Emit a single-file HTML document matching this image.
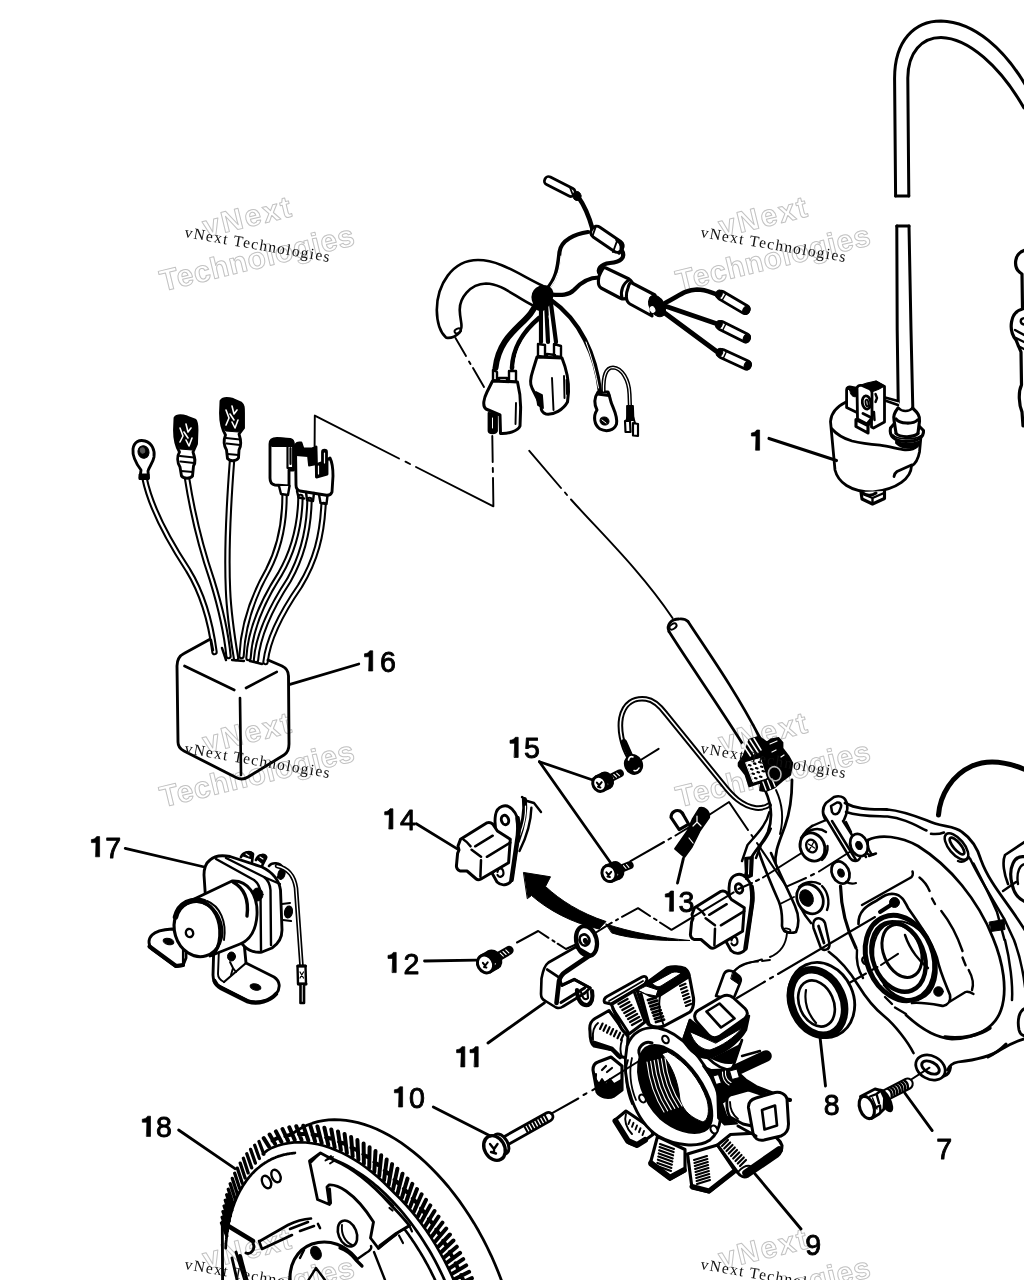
<!DOCTYPE html>
<html><head><meta charset="utf-8"><title>diagram</title>
<style>
html,body{margin:0;padding:0;background:#fff;}
body{width:1024px;height:1280px;overflow:hidden;font-family:"Liberation Sans",sans-serif;}
svg{display:block;filter:grayscale(100%)}
.lbl{font-family:"Liberation Sans",sans-serif;fill:#000;stroke:#000;stroke-width:0.9px;letter-spacing:0px}
.wmb{font-family:"Liberation Serif",serif;fill:#111;font-size:15.5px;letter-spacing:1.35px}
.wmo{font-family:"Liberation Sans",sans-serif;font-weight:bold;fill:#fff;stroke:#c2c2c2;stroke-width:1px;font-size:30px;letter-spacing:0.7px;text-anchor:middle}
</style></head><body>
<svg width="1024" height="1280" viewBox="0 0 1024 1280" stroke-linecap="round" stroke-linejoin="round">
<rect width="1024" height="1280" fill="#fff"/>
<g transform="translate(0,0)"><g transform="rotate(-13.6 256 255)"><text class="wmo" x="257" y="226" style="letter-spacing:2.0px">vNext</text><text class="wmo" x="256.5" y="268.5">Technologies</text></g></g>
<g transform="translate(516,0)"><g transform="rotate(-13.6 256 255)"><text class="wmo" x="257" y="226" style="letter-spacing:2.0px">vNext</text><text class="wmo" x="256.5" y="268.5">Technologies</text></g></g>
<g transform="translate(0,516)"><g transform="rotate(-13.6 256 255)"><text class="wmo" x="257" y="226" style="letter-spacing:2.0px">vNext</text><text class="wmo" x="256.5" y="268.5">Technologies</text></g></g>
<g transform="translate(516,516)"><g transform="rotate(-13.6 256 255)"><text class="wmo" x="257" y="226" style="letter-spacing:2.0px">vNext</text><text class="wmo" x="256.5" y="268.5">Technologies</text></g></g>
<g transform="translate(0,1032)"><g transform="rotate(-13.6 256 255)"><text class="wmo" x="257" y="226" style="letter-spacing:2.0px">vNext</text><text class="wmo" x="256.5" y="268.5">Technologies</text></g></g>
<g transform="translate(516,1032)"><g transform="rotate(-13.6 256 255)"><text class="wmo" x="257" y="226" style="letter-spacing:2.0px">vNext</text><text class="wmo" x="256.5" y="268.5">Technologies</text></g></g>
<path d="M895.6 196 L894.6 80 C894 40 915 21 941 21 C975 22 1005 50 1026 86" fill="none" stroke="#000" stroke-width="3.0" />
<path d="M908.8 196 L907.8 78 C908 52 922 37.5 941 37.5 C968 38 1000 66 1024 108" fill="none" stroke="#000" stroke-width="3.0" />
<path d="M895.6 196 L908.8 196" fill="none" stroke="#000" stroke-width="3" />
<path d="M896.8 226 L897.2 330 L898.3 408" fill="none" stroke="#000" stroke-width="3.0" />
<path d="M909 226 L911 330 L912.8 408" fill="none" stroke="#000" stroke-width="3.0" />
<path d="M896.8 226 L909 226" fill="none" stroke="#000" stroke-width="3" />
<path d="M830.5 421.5 C831 413 838 406 846 402 L885 397.5 L898 401.5 L920 430 L920.8 436 L919.5 452 C918 460 915 464 911.5 466 C911 478 898 489 873 492 C850 492 838 482 835 470 Z" fill="#fff" stroke="#fff" stroke-width="0.1" />
<path d="M846 402 C838 406 831 413 830.5 421.5 L835 470 C838 482 850 492 873 492 C898 489 911 478 911.5 466 C915 464 918 460 919.5 452 L920.8 438" fill="none" stroke="#000" stroke-width="2.8" />
<path d="M885 397.5 L898 401 M885 400.5 L898 405" fill="none" stroke="#000" stroke-width="2.64" />
<path d="M831.5 428.5 C838 436 845 439 852 441 C862 443.5 872 444.5 880 445.2 C890 446.5 898 449 905 449.8 C911 450 915 448.5 917.5 446" fill="none" stroke="#000" stroke-width="2.8" />
<path d="M894 476.5 C894.5 473.5 895.5 472.5 897 471.5 L911.5 465" fill="none" stroke="#000" stroke-width="2.8" />
<path d="M861 492 L862 499 L872.5 504 L884.5 498.5 L884.5 491" fill="#fff" stroke="#000" stroke-width="3.12" />
<path d="M863 494 L872.5 498 L872.5 504 M872.5 498 L884 493" fill="none" stroke="#000" stroke-width="2.4" />
<path d="M862 492.5 C866 496 872 496 876 493" fill="none" stroke="#000" stroke-width="3" />
<path d="M846.6 390 C846.6 387.5 848.5 386.5 851 387 L856 388 C857.5 388.5 858 390 858 392 L858 413 L846.6 407.5 Z" fill="#fff" stroke="#000" stroke-width="2.8" />
<path d="M847 388 L857.5 389 L857.5 396 C854 398 850.5 396 850 391 Z" fill="#000" stroke="#000" stroke-width="1" />
<path d="M871.5 385.5 L876 382 L884.5 386.5 L884.5 422 L873.5 428 L871.5 427 Z" fill="#fff" stroke="#000" stroke-width="2.8" />
<path d="M859.5 385.5 L867 383 L876 381 L884.5 386 L878 389.5 L871.5 392 Z" fill="#000" stroke="#000" stroke-width="1.2" />
<path d="M857 387.5 C858 385.5 860 385 862 385.5 L870 389 C871.5 390 872 391.5 872 393 L872 418 L867 424 L857.5 419 Z" fill="#fff" stroke="#000" stroke-width="2.8" />
<ellipse cx="866.5" cy="402.5" rx="4.2" ry="6.6" transform="rotate(-8 866.5 402.5)" fill="none" stroke="#000" stroke-width="2.8"/>
<ellipse cx="867" cy="403" rx="1.4" ry="3.4" transform="rotate(-8 867 403)" fill="none" stroke="#000" stroke-width="1.92"/>
<path d="M856 419.5 L868 425.5 L868 433 L856 426.5 Z" fill="#fff" stroke="#000" stroke-width="3.12" />
<path d="M863 413.5 L871 417.5 M868 425.5 L872 419" fill="none" stroke="#000" stroke-width="2.88" />
<path d="M875.5 394 L877 398 L875.5 402 M874 412 L874.5 420" fill="none" stroke="#000" stroke-width="2.4" />
<path d="M898 408 C894 413 893 416 894 420 L896 433 L890.5 428 C889 436 894 441 906 441.5 C918 441.5 924 437 923.5 430.5 L919.5 426.5 L919.5 421 C920 416 918 413 912.5 408 Z" fill="#fff" stroke="#fff" stroke-width="0.1" />
<path d="M898 408 C894 413 893 416 894 420 L896 433 M912.5 408 C918 413 920 416 919.5 421 L918 433" fill="none" stroke="#000" stroke-width="3.12" />
<path d="M898.5 408 C902 412 909 412 912.5 408" fill="none" stroke="#000" stroke-width="2.64" />
<path d="M896 419 C900 424 913 424.5 917.5 420" fill="none" stroke="#000" stroke-width="3.12" />
<path d="M894 424 L890.5 428 C889 436 894 441 906 441.5 C918 441.5 924 437 923.5 430.5 L919.5 426.5" fill="none" stroke="#000" stroke-width="3.12" />
<path d="M896 433.5 C900 437.5 913 438 918 433.5" fill="none" stroke="#000" stroke-width="3.12" />
<path d="M893 435 C897 439.5 914 440.5 920.5 436" fill="none" stroke="#000" stroke-width="1.8" />
<path d="M896 443 C902 449 914 449.5 919.5 444 L919 441.5 C912 444.5 902 444.5 896 441 Z" fill="#000" stroke="#000" stroke-width="1.8" />
<path d="M1026 250 C1014 252 1012 268 1022 274 L1022.5 309 C1010 312 1008 330 1016 340 L1021 352 L1021.5 385 C1018 392 1019 405 1022 412 L1023 426" fill="none" stroke="#000" stroke-width="3.2" />
<path d="M1015 330 L1026 336 M1016 338 L1026 343 M1018 346 L1026 350" fill="none" stroke="#000" stroke-width="2.4" />
<path d="M1026 318 C1019 318 1019 324 1026 325" fill="none" stroke="#000" stroke-width="2.4" />
<path d="M542.5 285.7 C520 275 500 260 478 260 C452 260 437 285 436.8 310 C437 324 441 333 446 337.5 C450 339 458 336 460.5 331" fill="none" stroke="#000" stroke-width="2.64" />
<path d="M534 306 C515 297 502 283.5 486 283.5 C470 284 459 298 459.8 311 C460 320 463 326 460.8 329.5" fill="none" stroke="#000" stroke-width="2.64" />
<ellipse cx="457.8" cy="330.8" rx="3.4" ry="2.2" transform="rotate(-25 457.8 330.8)" fill="none" stroke="#000" stroke-width="1.92"/>
<path d="M546 290 C556 280 558 268 559.5 252 C561 240 575 234 588 232" fill="none" stroke="#000" stroke-width="4.2" />
<path d="M550 288 C558 278 560 268 561 256" fill="none" stroke="#fff" stroke-width="1.2" />
<path d="M578 196.5 C584 205 589 216 592.5 229" fill="none" stroke="#000" stroke-width="4.6" />
<path d="M621 249 C627 258 620 262 610 263 C600 264 597 270 600 274" fill="none" stroke="#000" stroke-width="4.2" />
<path d="M549 294.5 C560 295 568 296 574 290 C582 281 590 277.5 599 277.5" fill="none" stroke="#000" stroke-width="4.2" />
<rect x="0" y="-4.25" width="33.1" height="8.5" rx="3.9" fill="#fff" stroke="#000" stroke-width="2.8" transform="translate(545,179) rotate(27.0)"/>
<path d="M570 187.5 L573 195.5" fill="none" stroke="#000" stroke-width="1.8" />
<ellipse cx="577" cy="196" rx="4" ry="4.5" transform="rotate(0 577 196)" fill="#000" stroke="#000" stroke-width="1"/>
<rect x="0" y="-6.0" width="36.3" height="12" rx="5.5" fill="#fff" stroke="#000" stroke-width="3" transform="translate(592,229) rotate(34.3)"/>
<path d="M596 226 L592.5 236 M617 241 L613 252" fill="none" stroke="#000" stroke-width="1.92" />
<path d="M617 240 C622 243 623 250 619 253" fill="none" stroke="#000" stroke-width="3.5" />
<path d="M606 268 L629 279 C634 282 634 288 631 293 C628 299 624 300 620 298 L601 288 C597 285 598 277 601 272 C603 268 604 267 606 268 Z" fill="#fff" stroke="#000" stroke-width="3.12" />
<path d="M629 280 C623 283 620 292 622 298" fill="none" stroke="#000" stroke-width="3" />
<path d="M632 283 L655 295 C652 300 650 310 652 316 L630 304 C625 301 626 293 628 288 C629 284 630 282 632 283 Z" fill="#fff" stroke="#000" stroke-width="3.12" />
<ellipse cx="657" cy="306" rx="7.5" ry="11.5" transform="rotate(-28 657 306)" fill="#000" stroke="#000" stroke-width="1"/>
<ellipse cx="652.5" cy="309.5" rx="2.2" ry="3" transform="rotate(-28 652.5 309.5)" fill="#fff" stroke="#fff" stroke-width="1"/>
<path d="M649 296 C647 300 647 306 648 310" fill="none" stroke="#fff" stroke-width="1.2" />
<path d="M665 303 C678 297 684 290 697 289.5 C705 289.5 710 292 716 294" fill="none" stroke="#000" stroke-width="4.6" />
<path d="M665 306 L716 323.5" fill="none" stroke="#000" stroke-width="5" />
<path d="M662 311 L716 351" fill="none" stroke="#000" stroke-width="4.8" />
<rect x="0" y="-4.25" width="35.4" height="8.5" rx="3.9" fill="#fff" stroke="#000" stroke-width="2.8" transform="translate(718,293.5) rotate(30.5)"/>
<ellipse cx="746.3469813432632" cy="310.22936603864713" rx="3.4" ry="4.6" transform="rotate(30.54757174890702 746.3469813432632 310.22936603864713)" fill="#000" stroke="#000" stroke-width="1"/>
<ellipse cx="718.8612074626947" cy="294.00825358454114" rx="3.2" ry="4.2" transform="rotate(30.54757174890702 718.8612074626947 294.00825358454114)" fill="#000" stroke="#000" stroke-width="1"/>
<path d="M725.8 294.0 L722.2 300.1" fill="none" stroke="#000" stroke-width="1.4" />
<rect x="0" y="-4.25" width="34.7" height="8.5" rx="3.9" fill="#fff" stroke="#000" stroke-width="2.8" transform="translate(718,324) rotate(26.6)"/>
<ellipse cx="746.7639320225002" cy="338.3819660112501" rx="3.4" ry="4.6" transform="rotate(26.56505117707799 746.7639320225002 338.3819660112501)" fill="#000" stroke="#000" stroke-width="1"/>
<ellipse cx="718.8944271909999" cy="324.44721359549993" rx="3.2" ry="4.2" transform="rotate(26.56505117707799 718.8944271909999 324.44721359549993)" fill="#000" stroke="#000" stroke-width="1"/>
<path d="M725.8 324.0 L722.7 330.3" fill="none" stroke="#000" stroke-width="1.4" />
<rect x="0" y="-4.25" width="34.7" height="8.5" rx="3.9" fill="#fff" stroke="#000" stroke-width="2.8" transform="translate(718.5,352) rotate(24.7)"/>
<ellipse cx="747.7290476596316" cy="365.45464098617964" rx="3.4" ry="4.6" transform="rotate(24.717440911083393 747.7290476596316 365.45464098617964)" fill="#000" stroke="#000" stroke-width="1"/>
<ellipse cx="719.4083809361473" cy="352.41814360552814" rx="3.2" ry="4.2" transform="rotate(24.717440911083393 719.4083809361473 352.41814360552814)" fill="#000" stroke="#000" stroke-width="1"/>
<path d="M726.3 351.7 L723.4 358.1" fill="none" stroke="#000" stroke-width="1.4" />
<path d="M538 300 C530 325 500 330 495.5 368" fill="none" stroke="#000" stroke-width="6" />
<path d="M539 318 C525 330 513 345 512 368" fill="none" stroke="#000" stroke-width="4.6" />
<path d="M536 326 C524 337 516 350 515 366" fill="none" stroke="#fff" stroke-width="1.1" />
<path d="M541 300 L541 342 M546 302 L548 342 M551 304 L556 342" fill="none" stroke="#000" stroke-width="4.2" />
<path d="M543.5 312 L544 340 M549 316 L552 340" fill="none" stroke="#fff" stroke-width="1" />
<path d="M551 300 C580 320 596 355 600 392" fill="none" stroke="#000" stroke-width="4.4" />
<path d="M586 342 C592 358 596 374 598.5 388" fill="none" stroke="#fff" stroke-width="1" />
<path d="M533 300 C531 290 540 284 548 287 C554 290 553 298 549 303 C546 310 540 312 536 308 Z" fill="#000" stroke="#000" stroke-width="2.4" />
<path d="M493 370 L493 380 L497 381 L497 372 Z M509 371 L509 381 L516 382 L516 371 Z M499 378 L507 378 L507 384 L499 384 Z" fill="#fff" stroke="#000" stroke-width="2.4" />
<path d="M492.5 381 L517.5 382 C520 392 521 402 520.5 412 L520 426 C518 431 508 434 500.5 433.5 L500 415 L486 409 C482 406 484 398 487 392 Z" fill="#fff" stroke="#000" stroke-width="3" />
<path d="M516 403 L515.5 424" fill="none" stroke="#000" stroke-width="1.92" />
<path d="M488.5 413 L488.5 431 C489 434 496 434 497 431 L497 414 Z" fill="#000" stroke="#000" stroke-width="1.8" />
<path d="M492.5 418 L492.5 428" fill="none" stroke="#fff" stroke-width="1" />
<path d="M538 344 L538 356 L545 357 L545 345 Z M554 344 L554 356 L561 357 L561 346 Z M547 354 L547 362 L555 363 L555 355 Z" fill="#fff" stroke="#000" stroke-width="2.4" />
<path d="M537 357 L562 358 C566 368 569 380 568.5 392 L567.5 402 C563 410 554 415 546 414 C542 413 541 410 541 406 L532 388 C529 383 531 376 533 370 Z" fill="#fff" stroke="#000" stroke-width="3" />
<path d="M552 378 L553.5 410 M564 376 L564.5 398 M566.5 380 L567 394" fill="none" stroke="#000" stroke-width="1.92" />
<path d="M536 392 L542 395 L543 408 L538 405 Z" fill="#000" stroke="#000" stroke-width="1.8" />
<path d="M598 392 C594 398 594 404 597 410 C593 416 594 425 600 429 C606 432 614 431 616.5 424 C618 416 613 408 611 402 C610 398 609 394 608 392 Z" fill="#fff" stroke="#000" stroke-width="3" />
<path d="M597.5 394 L609 395.5" fill="none" stroke="#000" stroke-width="3.12" />
<ellipse cx="604.5" cy="421" rx="4.6" ry="4" transform="rotate(20 604.5 421)" fill="#000" stroke="#000" stroke-width="1"/>
<path d="M602 420 L606 423" fill="none" stroke="#fff" stroke-width="1" />
<path d="M603.5 391 C603 376 606 367.5 613 367.5 C622 368 629 380 629.5 394 L630 408" fill="none" stroke="#000" stroke-width="4.2"/>
<path d="M603.5 391 C603 376 606 367.5 613 367.5 C622 368 629 380 629.5 394 L630 408" fill="none" stroke="#fff" stroke-width="1.2"/>
<path d="M627 406 L633 406 L633.5 420 L627 420 Z" fill="#000" stroke="#000" stroke-width="1.8" />
<path d="M625 421 L630 421 L630.5 432 L625.5 432 Z M633 423 L638 424 L638 436 L633 435.5 Z" fill="#fff" stroke="#000" stroke-width="2.16" />
<path d="M629 413 L626 421 M632 413 L635 423" fill="none" stroke="#000" stroke-width="1.92" />
<path d="M455.5 338 L466 356 M469 361.5 L470.5 364 M473 368 L484 387" fill="none" stroke="#000" stroke-width="1.92" />
<path d="M492.3 436 L492.7 462 M492.8 468 L492.9 472 M493 478 L493.4 506.3 L416 467 M410 464 L405.5 461.7 M399 458.5 L314.8 415.6 L314.6 446" fill="none" stroke="#000" stroke-width="1.92" />
<path d="M529.3 450.8 L561 488 M565 492.5 L567 495 M571 499.5 C600 532 640 570 672.5 618" fill="none" stroke="#000" stroke-width="1.92" />
<path d="M144.5 478 C150 505 165 535 188 570 C204 596 211 625 214.5 652" fill="none" stroke="#000" stroke-width="6.4"/>
<path d="M144.5 478 C150 505 165 535 188 570 C204 596 211 625 214.5 652" fill="none" stroke="#fff" stroke-width="2.3"/>
<path d="M187 478 C192 510 200 545 212 580 C220 606 226 630 228.5 656" fill="none" stroke="#000" stroke-width="6.4"/>
<path d="M187 478 C192 510 200 545 212 580 C220 606 226 630 228.5 656" fill="none" stroke="#fff" stroke-width="2.3"/>
<path d="M232 461 C229 500 226 545 228 590 C229 615 233 640 236 658" fill="none" stroke="#000" stroke-width="6.4"/>
<path d="M232 461 C229 500 226 545 228 590 C229 615 233 640 236 658" fill="none" stroke="#fff" stroke-width="2.3"/>
<path d="M284.5 492 C285 520 281 545 268 570 C252 598 243 625 241.5 656" fill="none" stroke="#000" stroke-width="6.4"/>
<path d="M284.5 492 C285 520 281 545 268 570 C252 598 243 625 241.5 656" fill="none" stroke="#fff" stroke-width="2.3"/>
<path d="M300.5 497 C300 525 294 550 280 574 C262 602 250 630 248.5 658" fill="none" stroke="#000" stroke-width="6.4"/>
<path d="M300.5 497 C300 525 294 550 280 574 C262 602 250 630 248.5 658" fill="none" stroke="#fff" stroke-width="2.3"/>
<path d="M309.5 500 C309 530 303 555 289 580 C272 606 258 634 256 660" fill="none" stroke="#000" stroke-width="6.4"/>
<path d="M309.5 500 C309 530 303 555 289 580 C272 606 258 634 256 660" fill="none" stroke="#fff" stroke-width="2.3"/>
<path d="M323.5 505 C322 535 316 560 300 586 C282 612 268 640 265.5 662" fill="none" stroke="#000" stroke-width="6.4"/>
<path d="M323.5 505 C322 535 316 560 300 586 C282 612 268 640 265.5 662" fill="none" stroke="#fff" stroke-width="2.3"/>
<path d="M209.5 639.5 L184 653.5 C179 656 177 660 177 666 L178 742 C178 746 180 749 184 751 L236 777.5 C240 779.5 244 779.5 248 777 L284 755 C288 752.5 289 749 289 744 L288.5 676 C288.5 671 286 668 282 666 L268 660" fill="none" stroke="#000" stroke-width="2.88" />
<path d="M184.5 666 L234.3 690 M246 688 L276.8 671.8 M240 698 L241 775" fill="none" stroke="#000" stroke-width="2.64" />
<path d="M211 640 L213 650 M222 648 L226 660 M232 660 L244 661 M250 661 L262 664" fill="none" stroke="#000" stroke-width="2.4" />
<path d="M141 470 C138 466 132 458 133 449 C134 442 139 439.5 145 441 C152 443 155 450 154 457 C153 463 149 467 148 471 L148.5 478 L140 478 Z" fill="#fff" stroke="#000" stroke-width="2.88" />
<ellipse cx="143.5" cy="452" rx="5.5" ry="6.2" transform="rotate(-15 143.5 452)" fill="#000" stroke="#000" stroke-width="1"/>
<ellipse cx="142.5" cy="450.5" rx="2.2" ry="2.6" transform="rotate(-15 142.5 450.5)" fill="#555" stroke="#555" stroke-width="1"/>
<path d="M139.5 474 L149 474 L149 479.5 L139.5 479.5 Z" fill="#000" stroke="#000" stroke-width="1" />
<path d="M175 418 C177 415 182 415.5 187 417 L195 420 C197 422 197 425 197 430 L196.5 444 L193 452 C195 458 196 462 193.5 466 L192.5 476 C190 479 184 479 181.5 476 L180 467 C177 462 177 456 179.5 452 C176 446 174.5 438 174.5 430 Z" fill="#fff" stroke="#000" stroke-width="2.88" />
<path d="M175 418 C177 415 182 415.5 187 417 L195 420 C197 422 197 425 197 430 L196.5 444 L192 450 L180 449 C176 444 174.5 438 174.5 430 Z" fill="#000" stroke="#000" stroke-width="1" />
<path d="M180 428 L183 436 L180 442 M186 424 L188 432 L191 428 M186 440 L189 446 L192 438 M184 432 L188 438" fill="none" stroke="#fff" stroke-width="1.6" />
<path d="M180 456 L194 457.5 M180.5 461.5 L194 463 M181 471 L193 472" fill="none" stroke="#000" stroke-width="2.16" />
<path d="M221 401 C223 398 228 398 233 399.5 L241 403 C243.5 405 243.5 408 243.5 413 L243.5 428 L239 434 C241 440 241.5 446 239 450 L238.5 458 C236 461.5 230 461.5 227.5 458.5 L226.5 450 C223.5 445 223.5 440 225.5 435 C222 429 220.5 422 220.5 413 Z" fill="#fff" stroke="#000" stroke-width="2.88" />
<path d="M221 401 C223 398 228 398 233 399.5 L241 403 C243.5 405 243.5 408 243.5 413 L243.5 428 L238.5 432 L226 431 C222 427 220.5 421 220.5 413 Z" fill="#000" stroke="#000" stroke-width="1" />
<path d="M226 410 L229 418 L226 425 M232 406 L234 414 L237 410 M232 422 L235 428 L238 420 M230 414 L234 420" fill="none" stroke="#fff" stroke-width="1.6" />
<path d="M226 438 L240 439.5 M226.5 443.5 L240 445 M227.5 454 L238.5 455" fill="none" stroke="#000" stroke-width="2.16" />
<path d="M270 444 C270 440 273 438.5 277 438.5 L290 439.5 C293 440 293.5 442 293.5 445 L293.5 470 L289 470 L289 486 L275 485 C271 484.5 270 482 270 478 Z" fill="#fff" stroke="#000" stroke-width="2.88" />
<path d="M271 442 C273 439 276 438.5 280 438.5 L291 439.5 C293 440 293.5 443 293.5 446 L272 446 Z" fill="#000" stroke="#000" stroke-width="1.8" />
<path d="M287.5 447 L287.5 468 L293 468 M290.5 448 L290.5 464" fill="none" stroke="#000" stroke-width="2.16" />
<path d="M279 486 L281 494 L288 495 L289.5 486" fill="#fff" stroke="#000" stroke-width="2.4" />
<path d="M295.5 446 C296 443 298 442.5 301 443 L303 449 L312 449 L316 447 L316.5 477 L327 474 L327 460 L330 458 C332 462 333 470 333 476 L332 492 C331 495 328 495.5 325 495 L300 491 C297 490 296 488 296 485 Z" fill="#fff" stroke="#000" stroke-width="2.88" />
<path d="M296 446 C296.5 443 298 442.5 301 443 L303 449 L312 449 L316 447 L316.5 464 L309 465.5 L308 456 L296 455 Z" fill="#000" stroke="#000" stroke-width="1.8" />
<path d="M316.5 477 L316.5 464 L322 462 L322 452 C322 449 327 449 327 452 L327 474 Z" fill="#000" stroke="#000" stroke-width="1.8" />
<path d="M318.5 466 L318.5 474 M324.5 453 L324.5 463" fill="none" stroke="#fff" stroke-width="1.2" />
<path d="M297 491 L298.5 497.5 L304 498.5 M306 492 L307 500 L313 501 L314 493 M319 494.5 L320.5 503 L326.5 504 L327.5 495.5" fill="none" stroke="#000" stroke-width="2.4" />
<path d="M669 631.6 C690 665 715 700 742 743" fill="none" stroke="#000" stroke-width="2.76" />
<path d="M688 621.5 C710 655 735 690 760 738" fill="none" stroke="#000" stroke-width="2.76" />
<path d="M669 631.6 C666 625 671 619 679 619 C684 618.5 686 619.5 688 621.5" fill="none" stroke="#000" stroke-width="2.76" />
<ellipse cx="673" cy="626.5" rx="4" ry="2.4" transform="rotate(-35 673 626.5)" fill="none" stroke="#000" stroke-width="1.92"/>
<path d="M629 757 C622 745 619 730 621 718 C624 703 634 697.5 646 699 C654 700 660 706 666 714 L722 783 C732 796 742 806 756 808 C762 808.5 766 807 769 805" fill="none" stroke="#000" stroke-width="5.6"/>
<path d="M629 757 C622 745 619 730 621 718 C624 703 634 697.5 646 699 C654 700 660 706 666 714 L722 783 C732 796 742 806 756 808 C762 808.5 766 807 769 805" fill="none" stroke="#fff" stroke-width="1.6"/>
<path d="M624 742 L632 760" fill="none" stroke="#000" stroke-width="6" />
<ellipse cx="633.5" cy="764.5" rx="8.2" ry="9.4" transform="rotate(-25 633.5 764.5)" fill="#000" stroke="#000" stroke-width="2.4"/>
<path d="M628.5 760 C629 757 631 756 633 757" fill="none" stroke="#fff" stroke-width="1.6" />
<path d="M634 770.5 C636 771 638 770 639 768" fill="none" stroke="#fff" stroke-width="1.5" />
<path d="M641.5 759.5 L658.6 748.8" fill="none" stroke="#000" stroke-width="2.04" />
<path d="M765 790 C772 805 773 818 768 832 C764 842 755 850 750 860 L744 880" fill="none" stroke="#000" stroke-width="2.76" />
<path d="M792 780 C792 800 790 812 785 826 C780 840 774 852 775.5 866" fill="none" stroke="#000" stroke-width="2.76" />
<path d="M776 790 C783 805 784 818 780 834" fill="none" stroke="#000" stroke-width="1.92" />
<path d="M759 852 C764 868 772 886 779 902 C783 912 782 921 782 926 C783 932 790 934 796 932 C799 925 799 915 795 906 C788 890 778 870 771 853" fill="#fff" stroke="#000" stroke-width="2.64" />
<path d="M780 904 L794 897" fill="none" stroke="#000" stroke-width="1.92" />
<ellipse cx="787" cy="930.5" rx="3.5" ry="2" transform="rotate(10 787 930.5)" fill="none" stroke="#000" stroke-width="1.8"/>
<path d="M787 933 C786 945 780 953 770 957 M762 959.5 C752 962 741 964 734 971" fill="none" stroke="#000" stroke-width="1.92" />
<path d="M749.3 739.5 L759 736.6 L766.9 742.5 L770.8 739.5 L778.6 738 L782.5 742.5 L782.5 748.3 L788.4 756 L792.3 763 L790.3 774.7 L782.5 780.5 L774.7 787.4 L765.9 791.3 L760 790.3 L761 782.5 L749.3 786.4 L745.4 774.7 L738.6 765.9 L738.6 763 L743.4 756 Z" fill="#000" stroke="#000" stroke-width="1.8" />
<path d="M746 762.5 L760.5 758.5 L766.5 778 L753.5 782 Z" fill="#fff" stroke="#fff" stroke-width="1" />
<path d="M749 765 l1.5 0.5 M754 763.5 l1.5 0.5 M759 762 l1.5 0.5 M751 769 l1.5 0.5 M756 768 l1.5 0.5 M761 766.5 l1.5 0.5 M752.5 773.5 l1.5 0.5 M757.5 772 l1.5 0.5 M762.5 771 l1.5 0.5 M755 778 l1.5 0.5 M760 776.5 l1.5 0.5" fill="none" stroke="#000" stroke-width="2.16" />
<path d="M742.5 744 L750.5 756 M746 741.5 L754.5 754.5 M750 740 L758 752.5 M754 738.5 L761 750" fill="none" stroke="#fff" stroke-width="1.5" />
<path d="M763 782 L766 790 M767.5 780.5 L770.5 788.5 M772 779 L775 786.5" fill="none" stroke="#fff" stroke-width="1.4" />
<ellipse cx="774.7" cy="773.7" rx="6.2" ry="7.2" transform="rotate(-20 774.7 773.7)" fill="none" stroke="#bbb" stroke-width="1.6"/>
<path d="M770 744 L777 741 M772 752 L776 750 M781 757 L784 755" fill="none" stroke="#fff" stroke-width="1.2" />
<path d="M603.7 781.7L619.8 773.4" fill="none" stroke="#000" stroke-width="8.1" />
<path d="M619.4 775.7L616.7 773.1" fill="none" stroke="#fff" stroke-width="1.1" />
<path d="M616.5 777.1L613.8 774.5" fill="none" stroke="#fff" stroke-width="1.1" />
<path d="M613.7 778.6L611.0 776.0" fill="none" stroke="#fff" stroke-width="1.1" />
<ellipse cx="606.1023583442358" cy="780.43593039693" rx="6.24" ry="7.8" transform="rotate(-27 606.1023583442358 780.43593039693)" fill="#000" stroke="#000" stroke-width="2.88"/>
<path d="M603.0 790.7L609.6 787.4L602.6 773.5L596.0 776.9Z" fill="#000" stroke="#000" stroke-width="2.88" />
<path d="M605.3 785.7L607.5 784.1" fill="none" stroke="#fff" stroke-width="1.6" />
<ellipse cx="599.5" cy="783.8" rx="6.552" ry="7.8" transform="rotate(-27 599.5 783.8)" fill="#fff" stroke="#000" stroke-width="3.0"/>
<path d="M596.9 782.6L599.1 785.4L601.7 782.2M598.0 786.8l2.4 0.6" fill="none" stroke="#000" stroke-width="2.04" />
<path d="M613.6 871.7L629.6 865.2" fill="none" stroke="#000" stroke-width="8.1" />
<path d="M628.9 867.3L626.5 864.5" fill="none" stroke="#fff" stroke-width="1.1" />
<path d="M626.0 868.5L623.5 865.7" fill="none" stroke="#fff" stroke-width="1.1" />
<path d="M623.0 869.7L620.6 866.9" fill="none" stroke="#fff" stroke-width="1.1" />
<ellipse cx="616.2227622270752" cy="870.58181463729" rx="6.56" ry="8.2" transform="rotate(-22 616.2227622270752 870.58181463729)" fill="#000" stroke="#000" stroke-width="2.88"/>
<path d="M612.1 881.1L619.3 878.2L613.2 863.0L605.9 865.9Z" fill="#000" stroke="#000" stroke-width="2.88" />
<path d="M614.9 876.0L617.4 874.5" fill="none" stroke="#fff" stroke-width="1.6" />
<ellipse cx="609" cy="873.5" rx="6.887999999999999" ry="8.2" transform="rotate(-22 609 873.5)" fill="#fff" stroke="#000" stroke-width="3.0"/>
<path d="M606.4 872.3L608.6 875.1L611.2 871.9M607.5 876.5l2.4 0.6" fill="none" stroke="#000" stroke-width="2.04" />
<path d="M630.5 861.2 L664 842 M668.5 839.5 L671 838 M675.5 835.5 L709 815 L729 802 L748 830 M751.5 835 L753.5 838 M757 843 L786.5 886.6 L806 878 M811 875.5 L814 874 M819 871.5 L859 846" fill="none" stroke="#000" stroke-width="2.04" />
<path d="M671 817.4 C671 812 676 809.5 680 811 C682 812 683 814 684 816 L688.7 824.2 L679.2 829.7 Z" fill="#fff" stroke="#000" stroke-width="3.12" />
<path d="M699.7 807.8 C704 806.5 710 811 709.2 817.4 L699.7 831 L691.5 847.5 L684.6 857 L675 848.8 L687.4 831 L692.8 818.7 Z" fill="#000" stroke="#000" stroke-width="1.8" />
<path d="M689 838 L693 843 M693 826 L697 822 L701 826 M697 822 L697 816" fill="none" stroke="#fff" stroke-width="1.2" />
<path d="M683.4 858.4 L677.5 883" fill="none" stroke="#000" stroke-width="2.88" />
<path d="M524.4 799.4 C526 812 523 826 517.5 841" fill="none" stroke="#000" stroke-width="5" transform="translate(0,0)"/>
<path d="M525.5 806 C526 815 523.5 826 520 835" fill="none" stroke="#fff" stroke-width="1.2" transform="translate(0,0)"/>
<path d="M522 797 L527 801 L534 803 L541 812 M531.4 807.6 C531 822 526 838 519.5 851" fill="none" stroke="#000" stroke-width="2.4" transform="translate(0,0)"/>
<path d="M495.5 815 C497 806 506 803 512 809 C517 814 519.5 822 519 832 L512 878 C511 885 502 887 497 882 L492 873 L499 866 L497 836 C495 828 494.5 821 495.5 815 Z" fill="#fff" stroke="#000" stroke-width="2.88" transform="translate(0,0)"/>
<path d="M517.5 818 C519 826 518.5 834 517 842 L511.5 880" fill="none" stroke="#000" stroke-width="4.6" transform="translate(0,0)"/>
<ellipse cx="505" cy="820" rx="3.6" ry="4.8" transform="rotate(-15 505 820)" fill="none" stroke="#000" stroke-width="2.88"/>
<path d="M497.5 872 C498 867 503 867 503.5 873 C503.5 877 499 878 497.5 875" fill="none" stroke="#000" stroke-width="2.16" transform="translate(0,0)"/>
<path d="M460.5 839.2 L487 822.8 C489 822 491 822.6 492.7 824 L497.4 831 L510.3 839.2 L508.6 862.7 L481 879 C479 880 477.5 880 476.3 879 L467 871 L460 871 C458 870 456.5 868.5 456.4 866.2 L457.6 853.3 L459 850 L458 846 Z" fill="#fff" stroke="#000" stroke-width="3.0" transform="translate(0,0)"/>
<path d="M475.2 846.3 L492.7 835.7 M486.9 856.8 L510.3 842.7 M471.6 849.8 L481 856.8 M481 860.3 L480.4 876.7 M463.4 839.5 C466 841 468.5 843.5 470.5 846.3" fill="none" stroke="#000" stroke-width="2.52" transform="translate(0,0)"/>
<path d="M769.4 812 C766 826 755 836 747.5 845 L742 861 M770.8 828.5 C768 836 764 841 761 845 L756 858" fill="none" stroke="#000" stroke-width="2.4" />
<path d="M495.5 815 C497 806 506 803 512 809 C517 814 519.5 822 519 832 L512 878 C511 885 502 887 497 882 L492 873 L499 866 L497 836 C495 828 494.5 821 495.5 815 Z" fill="#fff" stroke="#000" stroke-width="2.88" transform="translate(234,68.5)"/>
<path d="M517.5 818 C519 826 518.5 834 517 842 L511.5 880" fill="none" stroke="#000" stroke-width="4.6" transform="translate(234,68.5)"/>
<ellipse cx="739" cy="888.5" rx="3.6" ry="4.8" transform="rotate(-15 739 888.5)" fill="none" stroke="#000" stroke-width="2.88"/>
<path d="M497.5 872 C498 867 503 867 503.5 873 C503.5 877 499 878 497.5 875" fill="none" stroke="#000" stroke-width="2.16" transform="translate(234,68.5)"/>
<path d="M460.5 839.2 L487 822.8 C489 822 491 822.6 492.7 824 L497.4 831 L510.3 839.2 L508.6 862.7 L481 879 C479 880 477.5 880 476.3 879 L467 871 L460 871 C458 870 456.5 868.5 456.4 866.2 L457.6 853.3 L459 850 L458 846 Z" fill="#fff" stroke="#000" stroke-width="3.0" transform="translate(234,68.5)"/>
<path d="M475.2 846.3 L492.7 835.7 M486.9 856.8 L510.3 842.7 M471.6 849.8 L481 856.8 M481 860.3 L480.4 876.7 M463.4 839.5 C466 841 468.5 843.5 470.5 846.3" fill="none" stroke="#000" stroke-width="2.52" transform="translate(234,68.5)"/>
<path d="M745 858 L753 857 L752 876 L746 879 Z" fill="#000" stroke="#000" stroke-width="1.8" />
<path d="M749 860 L748.5 874" fill="none" stroke="#fff" stroke-width="1" />
<path d="M738.5 889 L752 883 M756 881 L759 879.5 M763 877.5 L811 847" fill="none" stroke="#000" stroke-width="2.04" />
<path d="M523.8 872.5 L550.5 876.8 L545.5 886.5 C560 900 580 913 606 921.5 L599 929 C572 923 548 910 531.5 895.5 L527.6 898.5 Z" fill="#000" stroke="#000" stroke-width="1" />
<path d="M606 924 C630 932 660 938 690 940.5 C660 941 630 939 612 933 Z" fill="#000" stroke="#000" stroke-width="1" />
<path d="M490.3 961.2L509.1 950.4" fill="none" stroke="#000" stroke-width="9.1" />
<path d="M508.9 952.9L505.8 949.9" fill="none" stroke="#fff" stroke-width="1.1" />
<path d="M506.1 954.5L503.0 951.5" fill="none" stroke="#fff" stroke-width="1.1" />
<path d="M503.3 956.1L500.2 953.1" fill="none" stroke="#fff" stroke-width="1.1" />
<path d="M500.6 957.7L497.5 954.7" fill="none" stroke="#fff" stroke-width="1.1" />
<ellipse cx="493.069062029076" cy="959.63" rx="7.359999999999999" ry="9.2" transform="rotate(-30 493.069062029076 959.63)" fill="#000" stroke="#000" stroke-width="2.88"/>
<path d="M490.1 972.0L497.7 967.6L488.5 951.7L480.9 956.0Z" fill="#000" stroke="#000" stroke-width="2.88" />
<path d="M492.4 965.9L495.0 963.8" fill="none" stroke="#fff" stroke-width="1.6" />
<ellipse cx="485.5" cy="964" rx="7.727999999999999" ry="9.2" transform="rotate(-30 485.5 964)" fill="#fff" stroke="#000" stroke-width="3.0"/>
<path d="M482.9 962.8L485.1 965.6L487.7 962.4M484.0 967.0l2.4 0.6" fill="none" stroke="#000" stroke-width="2.04" />
<path d="M517 942.5 L538.2 931 L548.5 937.8 M552.5 940.4 L554.5 941.7 M557.6 943.7 L566 949 L574.7 945" fill="none" stroke="#000" stroke-width="2.04" />
<path d="M575.7 947 L548.5 962.5 C545 965 543 970 541.5 978.5 L541 994 C541 998 543 1000 545.5 1001 L556 1007.5 C559 1008.5 561 1008 563 1006.5 L585 993 L590 988 L574.5 979.5 L562 985.5 L560 980 C561 976 563 973.5 566 971.5 L590.5 955 Z" fill="#fff" stroke="#000" stroke-width="2.64" />
<path d="M547.3 969.6 L559 977.4" fill="none" stroke="#000" stroke-width="2.88" />
<path d="M590.3 955 L566 971.5 C562 974 560 977 559 981 L556.5 1003" fill="none" stroke="#000" stroke-width="4.6" />
<path d="M562 985.2 L574.2 979.3 L590.3 988 M561 1002.5 L584.5 988" fill="none" stroke="#000" stroke-width="3.12" />
<ellipse cx="586.5" cy="941" rx="10.2" ry="15.2" transform="rotate(-14 586.5 941)" fill="#fff" stroke="#000" stroke-width="4.2"/>
<path d="M576.6 947 L590.3 955" fill="none" stroke="#000" stroke-width="2.88" />
<ellipse cx="584.5" cy="940" rx="4.8" ry="5.6" transform="rotate(-20 584.5 940)" fill="none" stroke="#000" stroke-width="2.8"/>
<ellipse cx="585.5" cy="941" rx="2" ry="2.6" transform="rotate(-20 585.5 941)" fill="#000" stroke="#000" stroke-width="1"/>
<path d="M577 990 C577 1000 582 1006 588 1005 C592 1003 593 997 592 991" fill="none" stroke="#000" stroke-width="4.2" />
<path d="M581 992 C582 998 585 1001 588 998 L587.5 992" fill="none" stroke="#000" stroke-width="2.16" />
<path d="M595.2 933 L611.8 922.7 M616 920.3 L618 919.2 M622 916.8 L638 908.2 L650 916 M654 918.5 L656.5 920 M660 922.5 L671.5 929.8 L733.7 892.4" fill="none" stroke="#000" stroke-width="2.04" />
<path d="M544.4 1002.8 L488 1043" fill="none" stroke="#000" stroke-width="2.88" />
<path d="M152 935 C156 931 164 929.5 172 929 L186 931 L186 958 L183 965.5 L176 966.5 L152 949 C148 945 148 939 152 935 Z" fill="#fff" stroke="#000" stroke-width="2.88" />
<ellipse cx="168.5" cy="941.5" rx="5.5" ry="3" transform="rotate(15 168.5 941.5)" fill="#000" stroke="#000" stroke-width="1"/>
<path d="M149.5 946.5 L176 966 L183 965" fill="none" stroke="#000" stroke-width="4.2" />
<path d="M183 944 L183 965" fill="none" stroke="#000" stroke-width="2.16" />
<path d="M214 940 L213 975 C213 980 215 984 219 986 L248 1001 C258 1004 270 1001 276 994 C281 988 280 981 274 977 L246 963 L243.5 937 Z" fill="#fff" stroke="#000" stroke-width="2.88" />
<path d="M219 948 L218 974 C218 978 220 980 224 982" fill="none" stroke="#000" stroke-width="1.92" />
<path d="M224 982 L246 963" fill="none" stroke="#000" stroke-width="2.16" />
<path d="M214.5 981 C216 985 218 986.5 221 988 L248 1001.5 C258 1004.5 270 1001 276 994" fill="none" stroke="#000" stroke-width="4.2" />
<ellipse cx="255.5" cy="987" rx="5.5" ry="3" transform="rotate(15 255.5 987)" fill="#000" stroke="#000" stroke-width="1"/>
<ellipse cx="231.5" cy="956.5" rx="4" ry="4.5" transform="rotate(0 231.5 956.5)" fill="#000" stroke="#000" stroke-width="1"/>
<path d="M230 962 L233 968 L231 975 M233 968 L236 972" fill="none" stroke="#000" stroke-width="1.92" />
<path d="M210 860 C214 856 222 855 230 856.5 L262 867 C272 872 279 880 280.5 890 L282 930 C282 938 278 944 272 948 L262 952 C254 953 248 950 244 946 L206 905 L204 875 C204 868 206 863 210 860 Z" fill="#fff" stroke="#000" stroke-width="2.88" />
<path d="M226 858 L264 877 C268 880 270 884 270.5 890 L271 945" fill="none" stroke="#000" stroke-width="2.4" />
<path d="M216 859 L254 880 C258 883 260 887 260.5 893 L261 950" fill="none" stroke="#000" stroke-width="2.4" />
<path d="M264 877 L280 884" fill="none" stroke="#000" stroke-width="2.16" />
<ellipse cx="257.5" cy="894.5" rx="5.5" ry="6.5" transform="rotate(0 257.5 894.5)" fill="#000" stroke="#000" stroke-width="1"/>
<path d="M241 857 C243 852 249 851 253 854 L252 862 M256 860 C258 854 264 854 266 858 L262 866" fill="#fff" stroke="#000" stroke-width="2.64" />
<path d="M243 856 C244 851 250 850 253 853 L252 859 Z M257 859 C259 853 265 853 267 857 L263 864 Z" fill="#000" stroke="#000" stroke-width="1.2" />
<path d="M246 854 L249 856 M260 857 L263 859" fill="none" stroke="#fff" stroke-width="1.1" />
<path d="M269 866 C272 862 280 862 283 868 C284 872 282 876 278 877" fill="#fff" stroke="#000" stroke-width="2.64" />
<ellipse cx="281.5" cy="874" rx="3.5" ry="5.5" transform="rotate(15 281.5 874)" fill="#000" stroke="#000" stroke-width="1"/>
<ellipse cx="288.5" cy="912" rx="4" ry="6" transform="rotate(10 288.5 912)" fill="#000" stroke="#000" stroke-width="1"/>
<path d="M282 904 L290 903 M283 920 L291 921" fill="none" stroke="#000" stroke-width="2.16" />
<path d="M277 866 C287 868 294 875 296 888 L301.5 966" fill="none" stroke="#000" stroke-width="4.6"/>
<path d="M277 866 C287 868 294 875 296 888 L301.5 966" fill="none" stroke="#fff" stroke-width="1.3"/>
<path d="M297.5 966 L305.5 966 L306 984 L298 984 Z" fill="#fff" stroke="#000" stroke-width="2.4" />
<path d="M300 972 L303.5 978 M303.5 972 L300 978" fill="none" stroke="#000" stroke-width="1.2" />
<path d="M298 966 L305.5 966 M298.5 984 L306 984" fill="none" stroke="#000" stroke-width="3" />
<path d="M300.5 985 L300.5 1003 L304 1003 L304 985" fill="#fff" stroke="#000" stroke-width="2.64" />
<path d="M190 901 L232 881 C248 880 258 895 257 915 C256 930 250 940 240 944 L210 956 Z" fill="#fff" stroke="#000" stroke-width="2.88" />
<path d="M233 882 C244 888 249 900 247 916" fill="none" stroke="#000" stroke-width="3.4" />
<ellipse cx="198" cy="929" rx="23.5" ry="28" transform="rotate(-17 198 929)" fill="#fff" stroke="#000" stroke-width="3.12"/>
<path d="M175.5 917 C179 903 192 897.5 204 901.5" fill="none" stroke="#000" stroke-width="5.5" />
<path d="M204.5 903 C216 908 222 922 220 938" fill="none" stroke="#fff" stroke-width="1.8" />
<path d="M207 901 C220 906 227 922 224 940" fill="none" stroke="#000" stroke-width="1.92" />
<ellipse cx="189.5" cy="933" rx="3.6" ry="4.2" transform="rotate(-17 189.5 933)" fill="none" stroke="#000" stroke-width="2.4"/>
<path d="M203 902 C214 906 221 920 220 936 C219.5 944 217 951 212 955" fill="none" stroke="#000" stroke-width="3.6" />
<path d="M938.5 815 C940 795 952 775 972 766 C990 758 1010 763 1026 770" fill="none" stroke="#000" stroke-width="5" />
<path d="M845 803 C858 810 872 809 887.5 809.5 C905 811 920 818 935 823.5 C945 827 955 826 962 832 C972 839 978 850 981 860 C990 885 1010 905 1026 932" fill="none" stroke="#000" stroke-width="2.76" />
<path d="M846 812 C860 816.5 872 816 887.5 816.6 C903 818 915 825 926.5 830.5 M931 833.8 C936 834.5 940 834 944 832.5" fill="none" stroke="#000" stroke-width="2.52" />
<path d="M970 858.5 C978 876 992 898 1004.5 919.5 L1014 940 C1020 956 1024 975 1026 995" fill="none" stroke="#000" stroke-width="2.52" />
<path d="M973.5 863.5 C982 880 990 896 997 912 L1004.5 940 M1005 940 C1010 960 1013 985 1012 1000" fill="none" stroke="#000" stroke-width="2.52" />
<path d="M989.5 922 L1004 919.5 L1005 929.5 L991 931.5 Z" fill="#000" stroke="#000" stroke-width="1" />
<ellipse cx="956.5" cy="846.5" rx="7.5" ry="16" transform="rotate(-40 956.5 846.5)" fill="none" stroke="#000" stroke-width="2.52"/>
<ellipse cx="957" cy="846" rx="3.6" ry="10.5" transform="rotate(-40 957 846)" fill="none" stroke="#000" stroke-width="2.76"/>
<path d="M958 861 C962 863 967 861 969 857" fill="none" stroke="#000" stroke-width="2.4" />
<path d="M826 820 C822 815 822 808 826 803 L834 797 C839 795.5 844 796.5 846 801 C848.5 806 847 814 844 820" fill="none" stroke="#000" stroke-width="2.76" />
<path d="M831 806 L837 802.5 C840 802 841.5 804 841 807 L839 812 C837 815 833.5 815 832 812 Z" fill="none" stroke="#000" stroke-width="2.52" />
<path d="M824 815 L850 858 C853 862 858 862 860 858 M832 821 L856 860 M843 821 L866 857" fill="none" stroke="#000" stroke-width="2.52" />
<path d="M826 820 L812 826 M846 822 L851 832" fill="none" stroke="#000" stroke-width="2.4" />
<path d="M868 840 C880 834 900 836 918 846 C950 866 978 900 993 938 C1003 962 1008 990 1001 1010 C995 1028 975 1039 952 1039 C935 1038 920 1028 906 1015" fill="none" stroke="#000" stroke-width="2.76" />
<path d="M945 1037 C962 1039.5 980 1035 990 1028" fill="none" stroke="#000" stroke-width="3.4" />
<path d="M868 840 C867 846 869 851 871.5 854 M869 856 L876 853.5" fill="none" stroke="#000" stroke-width="2.4" />
<path d="M895 1007.5 L906 1014 M885 997 L892 1004" fill="none" stroke="#000" stroke-width="2.4" />
<path d="M912.5 871.5 C913.5 874 912.5 877 910 878 L886 891.5 L862 905" fill="none" stroke="#000" stroke-width="2.52" />
<path d="M919.5 877.5 C924 881 927.5 886 929.6 891 M932 898.5 L935 904 M941.3 911 C950 922 958 938 962.5 951 M962.5 957.5 L965.6 965.3 M968.7 970 C972 976 974 984 972 990" fill="none" stroke="#000" stroke-width="2.4" />
<path d="M950 1001.5 L965.5 992 C968 991 971 992.5 973.5 994" fill="none" stroke="#000" stroke-width="2.4" />
<path d="M812 826 C804 831 800 838 801 848 M797 893 C798 905 804 915 811 923 M828.8 951.8 C840 960 850 972 858 985 C866 998 874 1008 884 1016 C895 1025 908 1042 913.5 1053" fill="none" stroke="#000" stroke-width="2.64" />
<ellipse cx="812.5" cy="847" rx="12" ry="14.5" transform="rotate(-25 812.5 847)" fill="#fff" stroke="#000" stroke-width="2.88"/>
<path d="M801 838 C806 830 818 826 826 832 M822 860 C826 856 828 851 827.5 846" fill="none" stroke="#000" stroke-width="2.4" />
<ellipse cx="811.5" cy="846" rx="5.2" ry="6.5" transform="rotate(-20 811.5 846)" fill="none" stroke="#000" stroke-width="2.4"/>
<path d="M808.5 844 L814.5 848 M813.5 842.5 L809.5 849.5" fill="none" stroke="#000" stroke-width="1.3" />
<ellipse cx="859" cy="845" rx="8.5" ry="11.5" transform="rotate(-20 859 845)" fill="#fff" stroke="#000" stroke-width="2.76"/>
<ellipse cx="859" cy="845.5" rx="3.2" ry="4.2" transform="rotate(-20 859 845.5)" fill="#000" stroke="#000" stroke-width="1"/>
<path d="M866 853 C869 855 872 855 874 854" fill="none" stroke="#000" stroke-width="2.16" />
<ellipse cx="840.5" cy="872.5" rx="8.5" ry="11.5" transform="rotate(-25 840.5 872.5)" fill="#fff" stroke="#000" stroke-width="2.76"/>
<ellipse cx="841" cy="873" rx="3.2" ry="4.2" transform="rotate(-20 841 873)" fill="#000" stroke="#000" stroke-width="1"/>
<path d="M846 882 C850 884 853 884 856 883" fill="none" stroke="#000" stroke-width="2.16" />
<ellipse cx="810" cy="899" rx="12.5" ry="15.5" transform="rotate(-30 810 899)" fill="#fff" stroke="#000" stroke-width="2.76"/>
<ellipse cx="806.5" cy="898" rx="6.5" ry="8.5" transform="rotate(-25 806.5 898)" fill="#000" stroke="#000" stroke-width="1"/>
<path d="M799 887 C804 882 812 880 820 884 M822 886 C828 892 830 902 827 910" fill="none" stroke="#000" stroke-width="2.4" />
<path d="M814 921 C817 916.5 823 918 825 923 L829.5 944 C830 950 823 952 820.5 947 L813.5 928 C812.5 925 813 923 814 921 Z" fill="none" stroke="#000" stroke-width="2.52" />
<path d="M818.5 926 L824 943" fill="none" stroke="#000" stroke-width="2.8" />
<path d="M840.5 886 C841 905 846 928 856 948" fill="none" stroke="#000" stroke-width="3.2" />
<path d="M858.5 924 C858 912 866 906 876 901 C882 897 887 893 894 894 C902 895 905 902 908 908 C920 925 932 942 937 958 C940 972 946 985 950 995 C951 1001 948 1005 943 1006 C932 1004 922 1002 912 1003" fill="none" stroke="#000" stroke-width="2.64" />
<ellipse cx="894.5" cy="902.5" rx="5" ry="5" transform="rotate(0 894.5 902.5)" fill="#000" stroke="#000" stroke-width="1"/>
<path d="M880 912 L894 903" fill="none" stroke="#000" stroke-width="4" />
<ellipse cx="938.5" cy="991.5" rx="4.8" ry="4.8" transform="rotate(0 938.5 991.5)" fill="#000" stroke="#000" stroke-width="1"/>
<ellipse cx="865" cy="960.5" rx="2.6" ry="3.6" transform="rotate(-20 865 960.5)" fill="none" stroke="#000" stroke-width="2.4"/>
<path d="M857 950 C856 960 858 970 863 978" fill="none" stroke="#000" stroke-width="2.4" />
<ellipse cx="900" cy="958" rx="33" ry="44" transform="rotate(-22 900 958)" fill="#fff" stroke="#000" stroke-width="5"/>
<ellipse cx="905" cy="961" rx="30" ry="41" transform="rotate(-22 905 961)" fill="none" stroke="#000" stroke-width="1.92"/>
<ellipse cx="898.5" cy="957" rx="25.5" ry="36" transform="rotate(-22 898.5 957)" fill="none" stroke="#000" stroke-width="4.4"/>
<ellipse cx="902" cy="951" rx="18.5" ry="27.5" transform="rotate(-22 902 951)" fill="none" stroke="#000" stroke-width="3"/>
<path d="M905 935 C910 950 920 962 928 968" fill="none" stroke="#000" stroke-width="2.4" />
<path d="M884 985 C892 995 905 1002 918 1000" fill="none" stroke="#000" stroke-width="2.64" />
<path d="M847.4 984 L866 973.5 M870 971 L877.5 967 M881 965 L898 953.8" fill="none" stroke="#000" stroke-width="2.04" />
<path d="M737 998 L765 981.5 M770 978.5 L773 976.8 M778 974 L875 917" fill="none" stroke="#000" stroke-width="2.04" />
<path d="M1026 841 L1005 855 C1002 862 1004 874 1008 884" fill="none" stroke="#000" stroke-width="2.64" />
<path d="M1026 857 C1014 854 1008 868 1012 884 C1014 894 1020 900 1026 902" fill="none" stroke="#000" stroke-width="3.2" />
<path d="M1026 864 C1020 864 1016 872 1018 884 M1003 891 L1016 882" fill="none" stroke="#000" stroke-width="2.4" />
<path d="M1026 1008 C1019 1010 1017 1020 1019 1030 C1020 1034 1023 1036 1026 1036" fill="none" stroke="#000" stroke-width="2.88" />
<path d="M1026 1038.5 C1015 1041 1008 1045 1000 1050 C990 1057 975 1060 958 1062 C952 1063 949 1066 947.5 1070" fill="none" stroke="#000" stroke-width="2.76" />
<path d="M1006 1044 C1000 1050 994 1054 988 1057" fill="none" stroke="#000" stroke-width="3" />
<ellipse cx="930.5" cy="1067.5" rx="15.5" ry="11.5" transform="rotate(28 930.5 1067.5)" fill="#fff" stroke="#000" stroke-width="2.76"/>
<ellipse cx="930.5" cy="1067.5" rx="9.5" ry="5.5" transform="rotate(28 930.5 1067.5)" fill="none" stroke="#000" stroke-width="2.88"/>
<path d="M944 1076 C948 1075 950 1071 950.5 1067" fill="none" stroke="#000" stroke-width="3" />
<ellipse cx="821.5" cy="1000" rx="32" ry="38.5" transform="rotate(-24 821.5 1000)" fill="#fff" stroke="#000" stroke-width="2.88"/>
<ellipse cx="817.5" cy="1002.5" rx="25.5" ry="34" transform="rotate(-24 817.5 1002.5)" fill="#fff" stroke="#000" stroke-width="7.5"/>
<ellipse cx="816.5" cy="1003.5" rx="17" ry="24" transform="rotate(-24 816.5 1003.5)" fill="none" stroke="#000" stroke-width="2.64"/>
<path d="M806 990 C804 1002 808 1014 816 1023" fill="none" stroke="#000" stroke-width="2.16" />
<path d="M820 1037 L825.5 1086" fill="none" stroke="#000" stroke-width="2.88" />
<path d="M884 1096 L907.5 1083.8" fill="none" stroke="#000" stroke-width="12.6" />
<path d="M886 1095 L907.5 1083.8" fill="none" stroke="#fff" stroke-width="8.4" />
<path d="M888.1 1089.0 C891.0 1090.6 892.0 1093.6 891.7 1096.6" fill="none" stroke="#000" stroke-width="2.4" />
<path d="M890.8 1087.6 C893.7 1089.2 894.7 1092.2 894.4 1095.2" fill="none" stroke="#000" stroke-width="2.4" />
<path d="M893.5 1086.2 C896.4 1087.8 897.4 1090.8 897.1 1093.8" fill="none" stroke="#000" stroke-width="2.4" />
<path d="M896.2 1084.8 C899.1 1086.4 900.1 1089.4 899.8 1092.4" fill="none" stroke="#000" stroke-width="2.4" />
<path d="M898.9 1083.4 C901.8 1085.0 902.8 1088.0 902.5 1091.0" fill="none" stroke="#000" stroke-width="2.4" />
<path d="M901.6 1082.0 C904.5 1083.6 905.5 1086.6 905.2 1089.6" fill="none" stroke="#000" stroke-width="2.4" />
<path d="M904.3 1080.6 C907.2 1082.2 908.2 1085.2 907.9 1088.2" fill="none" stroke="#000" stroke-width="2.4" />
<ellipse cx="885.5" cy="1100.5" rx="4.6" ry="12" transform="rotate(-27 885.5 1100.5)" fill="#000" stroke="#000" stroke-width="1.8"/>
<path d="M882 1095 L884 1106" fill="none" stroke="#fff" stroke-width="1.1" />
<path d="M860.5 1096.5 L875 1089 L881 1090.5 L884.5 1098 L884 1109 L879 1114 L871.5 1118.5 Z" fill="#fff" stroke="#000" stroke-width="2.88" />
<ellipse cx="866.8" cy="1107.5" rx="7" ry="11.6" transform="rotate(-20 866.8 1107.5)" fill="#fff" stroke="#000" stroke-width="3.12"/>
<path d="M870 1096.5 L876.5 1094 L879 1103 M876.5 1094 L881 1090.5 M874.5 1108 L880 1105.5 L880.5 1112" fill="none" stroke="#000" stroke-width="2.4" />
<path d="M872.5 1098 L877 1109" fill="none" stroke="#000" stroke-width="1.4" />
<path d="M911.2 1079.5 L929.5 1067.7" fill="none" stroke="#000" stroke-width="2.04" />
<path d="M904.8 1093 L932.2 1130.6" fill="none" stroke="#000" stroke-width="2.88" />
<path d="M500 1144 L548.5 1116.8" fill="none" stroke="#000" stroke-width="11.6" />
<path d="M500 1144 L548.5 1116.8" fill="none" stroke="#fff" stroke-width="6.0" />
<path d="M524.4 1126.5 L527.6 1132.3" fill="none" stroke="#000" stroke-width="2.04" />
<path d="M527.3 1124.9 L530.5 1130.7" fill="none" stroke="#000" stroke-width="2.04" />
<path d="M530.2 1123.2 L533.4 1129.0" fill="none" stroke="#000" stroke-width="2.04" />
<path d="M533.1 1121.6 L536.3 1127.4" fill="none" stroke="#000" stroke-width="2.04" />
<path d="M536.0 1120.0 L539.2 1125.8" fill="none" stroke="#000" stroke-width="2.04" />
<path d="M538.9 1118.3 L542.1 1124.2" fill="none" stroke="#000" stroke-width="2.04" />
<path d="M541.8 1116.7 L545.0 1122.5" fill="none" stroke="#000" stroke-width="2.04" />
<path d="M544.7 1115.1 L547.9 1120.9" fill="none" stroke="#000" stroke-width="2.04" />
<ellipse cx="501" cy="1144" rx="6.6" ry="11" transform="rotate(-30 501 1144)" fill="#fff" stroke="#000" stroke-width="3"/>
<ellipse cx="494.5" cy="1148" rx="10" ry="13" transform="rotate(-30 494.5 1148)" fill="#fff" stroke="#000" stroke-width="3.4"/>
<path d="M490 1144 L494 1149 L497.5 1144 M491 1152 L496 1153.5 M494 1149 L494 1153" fill="none" stroke="#000" stroke-width="2.4" />
<path d="M433.3 1107 L490.4 1136" fill="none" stroke="#000" stroke-width="2.88" />
<path d="M734 972.3 C738 965 748 962 758 961.5 M762 961 L770 960" fill="none" stroke="#000" stroke-width="1.92" />
<path d="M716 996 L724 974 C726 970 730 970 734 972 L739 976 C741 978 741 981 740 983 L733 1000 Z" fill="#fff" stroke="#000" stroke-width="2.64" />
<path d="M733 972 L740 977 L738.5 984 L731 979 Z" fill="#000" stroke="#000" stroke-width="1" />
<path d="M736 1070 L766 1056" fill="none" stroke="#000" stroke-width="11.5" />
<path d="M742 1056 L760 1051" fill="none" stroke="#000" stroke-width="2.4" />
<path d="M738 1083 L770 1096 L790 1100" fill="none" stroke="#000" stroke-width="4" />
<path d="M590 1031 C589 1024 591 1021 595 1018.5 L609 1010.5 L628 1036.5 L627 1058 L618 1056 L613 1050 L594 1046 C591 1044 590 1038 590 1031 Z" fill="#fff" stroke="#000" stroke-width="3.12" />
<path d="M593 1040 C592 1030 594 1026 598 1023" fill="none" stroke="#000" stroke-width="1.92" />
<path d="M600.0 1029.0l2.6 -5.5M603.5 1030.8l2.6 -5.5M607.0 1032.7l2.6 -5.5M610.5 1034.5l2.6 -5.5M614.0 1036.3l2.6 -5.5M617.5 1038.2l2.6 -5.5M621.0 1040.0l2.6 -5.5" fill="none" stroke="#000" stroke-width="2.16" />
<path d="M594 1043 L612 1049 L620 1057" fill="none" stroke="#000" stroke-width="4.5" />
<path d="M622 1040 C620 1046 620 1052 622 1057" fill="none" stroke="#000" stroke-width="1.92" />
<path d="M593 1070 C593 1066 595 1063 598 1062 L611 1057 L622 1066 L622 1090 L614 1096 C608 1099 600 1097 597 1092 Z" fill="#fff" stroke="#000" stroke-width="3.12" />
<path d="M596 1074 C595 1080 597 1086 600 1090 M602 1070 L606 1066 M607 1072 L612 1068" fill="none" stroke="#000" stroke-width="2.16" />
<path d="M595 1078 L597 1090 L603 1097 L612 1096 L620 1089 L621 1080 L614 1084 L610 1079 L606 1085 L602 1079 L599 1084 Z" fill="#000" stroke="#000" stroke-width="1.8" />
<path d="M603.0 1092.0l1 -4M606.0 1091.0l1 -4M609.0 1090.0l1 -4M612.0 1089.0l1 -4M615.0 1088.0l1 -4" fill="none" stroke="#000" stroke-width="1.1" />
<path d="M604.5 1002.5 C603.5 1000 604.5 998 607 996.5 L642 977 C645 975.5 647 977 647 980 L645 984 L611 1004 Z" fill="#fff" stroke="#000" stroke-width="2.88" />
<path d="M609 1001 L643 981" fill="none" stroke="#000" stroke-width="1.8" />
<path d="M611.5 1004.5 L634 991 L645 1022 L629 1034 C625 1034 622 1030 620 1026 Z" fill="#fff" stroke="#000" stroke-width="3.12" />
<path d="M618.5 1004.0l9 -5M620.4 1007.0l9 -5M622.4 1010.0l9 -5M624.3 1013.0l9 -5M626.2 1016.0l9 -5M628.1 1019.0l9 -5M630.1 1022.0l9 -5M632.0 1025.0l9 -5" fill="none" stroke="#000" stroke-width="2.4" />
<path d="M613 1009 L628 1032" fill="none" stroke="#000" stroke-width="3" />
<path d="M637 990 L667 968 C672 966 680 966.5 685 968.5 C688 970.5 689 973 689.5 977 L693.5 998 C694 1004 693 1009 690 1012 L664 1026 C658 1028 652 1027 648 1024 Z" fill="#fff" stroke="#000" stroke-width="3.12" />
<path d="M637 990 L667 968 C672 966 680 966.5 685 968.5 C688 970.5 689 973 689.5 977 L660 996 C656 998 650 997 646 994 Z" fill="#000" stroke="#000" stroke-width="1.8" />
<path d="M652 983.5 L672 972.5 C675 971.5 679 972 681 973.5 L661 986 C658 987.5 655 986 652 983.5 Z" fill="#fff" stroke="#000" stroke-width="1" />
<path d="M638 990 L646 986 L658 990 L656 996 L646 994 Z" fill="#fff" stroke="#000" stroke-width="1" />
<path d="M648.0 1000.0l8 -2.4M649.1 1003.1l8 -2.4M650.3 1006.3l8 -2.4M651.4 1009.4l8 -2.4M652.6 1012.6l8 -2.4M653.7 1015.7l8 -2.4M654.9 1018.9l8 -2.4M656.0 1022.0l8 -2.4" fill="none" stroke="#000" stroke-width="2.8" />
<path d="M680.0 986.0l5.5 -2.2M681.0 989.3l5.5 -2.2M682.0 992.7l5.5 -2.2M683.0 996.0l5.5 -2.2M684.0 999.3l5.5 -2.2M685.0 1002.7l5.5 -2.2M686.0 1006.0l5.5 -2.2" fill="none" stroke="#000" stroke-width="2.16" />
<path d="M641 994 L649 1024" fill="none" stroke="#000" stroke-width="3" />
<path d="M664 1026 C660 1016 658 1006 660 996" fill="none" stroke="#000" stroke-width="1.92" />
<path d="M614.5 1120.5 L626 1111 L651 1128 L653 1134.5 L637 1146 L629 1143 Z" fill="#fff" stroke="#000" stroke-width="3.12" />
<path d="M615.5 1121 L628 1141 L637 1145 L645 1140" fill="none" stroke="#000" stroke-width="6" />
<path d="M626 1114 C624 1120 626 1128 632 1134" fill="none" stroke="#000" stroke-width="1.92" />
<path d="M630.0 1120.0l-1.5 4M633.5 1122.8l-1.5 4M637.0 1125.5l-1.5 4M640.5 1128.2l-1.5 4M644.0 1131.0l-1.5 4" fill="none" stroke="#000" stroke-width="1.92" />
<path d="M657.5 1136.5 L685 1149.5 L685 1171 L670 1179.5 L650 1164.5 Z" fill="#fff" stroke="#000" stroke-width="3.12" />
<path d="M660.0 1144.0l14 5M659.6 1147.1l14 5M659.1 1150.3l14 5M658.7 1153.4l14 5M658.3 1156.6l14 5M657.9 1159.7l14 5M657.4 1162.9l14 5M657.0 1166.0l14 5" fill="none" stroke="#000" stroke-width="2.16" />
<path d="M651 1163 L670 1177.5 L684 1170" fill="none" stroke="#000" stroke-width="5.5" />
<path d="M687.5 1154 L717.5 1145 L735 1171 L709 1192 L692 1188 Z" fill="#fff" stroke="#000" stroke-width="3.12" />
<path d="M694.0 1160.0l13 -4M694.4 1163.0l13 -4M694.8 1166.0l13 -4M695.1 1169.0l13 -4M695.5 1172.0l13 -4M695.9 1175.0l13 -4M696.2 1178.0l13 -4M696.6 1181.0l13 -4M697.0 1184.0l13 -4" fill="none" stroke="#000" stroke-width="2.16" />
<path d="M692 1186.5 L709 1191 L734 1171.5" fill="none" stroke="#000" stroke-width="5" />
<path d="M717.5 1145 L730.5 1134.5 L767 1132.5 C774 1135 780 1140 782 1145.5 C782 1150 780 1154 777.5 1156 L748 1176 C744 1178 740 1176 738 1173 Z" fill="#fff" stroke="#000" stroke-width="3.12" />
<path d="M722.0 1146.0l6 -6M724.2 1148.5l6 -6M726.5 1151.0l6 -6M728.8 1153.5l6 -6M731.0 1156.0l6 -6M733.2 1158.5l6 -6M735.5 1161.0l6 -6M737.8 1163.5l6 -6M740.0 1166.0l6 -6" fill="none" stroke="#000" stroke-width="2.16" />
<path d="M746 1173 L779 1150" fill="none" stroke="#000" stroke-width="7.5" />
<path d="M752.0 1166.0l1.5 2.5M755.7 1163.7l1.5 2.5M759.3 1161.3l1.5 2.5M763.0 1159.0l1.5 2.5M766.7 1156.7l1.5 2.5M770.3 1154.3l1.5 2.5M774.0 1152.0l1.5 2.5" fill="none" stroke="#000" stroke-width="1" />
<path d="M738 1172 C741 1168 746 1165 750 1166" fill="none" stroke="#000" stroke-width="1.92" />
<path d="M627 1046 C632 1032 644 1026 658 1028 C680 1032 704 1058 716 1088 C724 1110 722 1130 710 1140 C698 1148 676 1146 658 1136 C636 1122 620 1082 627 1046 Z" fill="#fff" stroke="#000" stroke-width="2.88" />
<path d="M640 1056 C644 1046 652 1043 664 1047 C684 1055 702 1078 710 1100 C714 1116 712 1127 704 1131 C692 1136 674 1130 660 1118 C644 1102 634 1076 640 1056 Z" fill="#000" stroke="#000" stroke-width="2.4" />
<path d="M668 1052 C686 1062 700 1080 707 1100 C710 1112 708 1120 703 1122 C692 1118 684 1112 680 1100 C678 1080 672 1066 662 1054 Z" fill="#fff" stroke="#000" stroke-width="1" />
<path d="M647.0 1062.0 C649.0 1080.0 655.0 1098.0 664.0 1112.0M650.6 1061.2 C652.6 1079.0 658.6 1097.0 667.6 1110.8M654.2 1060.4 C656.2 1078.0 662.2 1096.0 671.2 1109.6M657.8 1059.6 C659.8 1077.0 665.8 1095.0 674.8 1108.4M661.4 1058.8 C663.4 1076.0 669.4 1094.0 678.4 1107.2M665.0 1058.0 C667.0 1075.0 673.0 1093.0 682.0 1106.0" fill="none" stroke="#fff" stroke-width="1.1" />
<path d="M640 1056 C636 1048 644 1040 652 1043" fill="none" stroke="#000" stroke-width="3" />
<ellipse cx="665.5" cy="1039.5" rx="3" ry="4" transform="rotate(-30 665.5 1039.5)" fill="#fff" stroke="#000" stroke-width="2.16"/>
<ellipse cx="642.5" cy="1098.5" rx="3" ry="4.2" transform="rotate(-30 642.5 1098.5)" fill="#fff" stroke="#000" stroke-width="2.16"/>
<ellipse cx="714" cy="1129.5" rx="3.2" ry="4.2" transform="rotate(-30 714 1129.5)" fill="#fff" stroke="#000" stroke-width="2.16"/>
<path d="M628 1060 C624 1072 626 1090 632 1104 M632 1058 C629 1070 630 1086 636 1100" fill="none" stroke="#000" stroke-width="1.8" />
<path d="M683 1040 C690 1052 698 1058 708 1058 C722 1054 738 1044 746 1030 L749 1016 L716 1040 L690 1020 Z" fill="#000" stroke="#000" stroke-width="2.4" />
<path d="M690 1032 C694 1044 702 1050 710 1050 C722 1046 734 1038 742 1028 L716 1043 Z" fill="#fff" stroke="#000" stroke-width="1" />
<path d="M698 1010.5 L722 996.5 C726 994.5 730 995 733 997.5 L745 1008.5 C748.5 1012 748 1016 744 1019 L720 1036 C716 1038.5 712 1038 709 1035.5 L697 1022 C693.5 1018 694 1013 698 1010.5 Z" fill="#fff" stroke="#000" stroke-width="3" />
<path d="M706.5 1011.5 L719.5 1003.5 L734.5 1018.5 L721 1027.5 Z" fill="none" stroke="#000" stroke-width="2.64" />
<path d="M684 1038 L690 1020 M708 1058 C716 1066 724 1070 732 1070 L742 1040" fill="none" stroke="#000" stroke-width="2.64" />
<path d="M712 1058 C720 1062 728 1064 734 1062 L740 1044" fill="#000" stroke="#000" stroke-width="2.4" />
<path d="M703 1066 L711.5 1070 L725 1069.5 L733 1067.5 L746 1079.5 L756.5 1086 L776 1093.5 L756 1090 L740.5 1091.5 L722 1103 L726.5 1116 L737 1123.5 L724.5 1124.5 L718 1118 L717 1086 Z" fill="#000" stroke="#000" stroke-width="1.8" />
<path d="M713 1076 L718.5 1074.5 L721.5 1083 L716 1084.5 Z M729.5 1071 L737 1069 L739.5 1077.5 L732 1079.5 Z" fill="#fff" stroke="#000" stroke-width="1.2" />
<path d="M722.5 1072 C722 1078 725 1083 729 1085 M725.5 1071 C725 1076 727.5 1080.5 731 1082.5" fill="none" stroke="#fff" stroke-width="1.1" />
<path d="M727 1100 C727 1097 729 1095.5 732 1094.5 L748 1090 L766 1096 L752 1104 L752 1126 L743 1124 L730 1117 C727 1112 726.5 1106 727 1100 Z" fill="#fff" stroke="#000" stroke-width="2.88" />
<path d="M730 1102 C730 1110 733 1115 738 1119" fill="none" stroke="#000" stroke-width="1.92" />
<path d="M756 1098 L775 1092.5 C780 1091.5 786 1094 787 1099 L788.5 1124 C788.5 1130 786 1134 781 1136 L764 1140 C758 1141 754 1138 753 1133 L748.5 1108 C748 1103 751 1099.5 756 1098 Z" fill="#fff" stroke="#000" stroke-width="3" />
<path d="M762 1110 L775 1105.5 L777 1125.5 L764.5 1129.5 Z" fill="none" stroke="#000" stroke-width="2.64" />
<path d="M738 1126 L756 1136" fill="none" stroke="#000" stroke-width="3" />
<path d="M293.3 1133.0L297.9 1130.0L302.6 1127.3L307.5 1125.0L312.6 1123.2L317.8 1121.7L323.2 1120.6L328.7 1119.9L334.4 1119.7L340.2 1119.8L346.0 1120.3L352.0 1121.3L358.0 1122.6L364.1 1124.4L370.3 1126.5L376.5 1129.0L382.7 1132.0L388.9 1135.3L395.1 1138.9L401.3 1142.9L407.4 1147.3L413.6 1152.1L419.6 1157.1L425.6 1162.5L431.5 1168.2L437.3 1174.2L443.0 1180.5L448.6 1187.0L454.0 1193.9L459.3 1200.9L464.4 1208.2L469.4 1215.7L474.2 1223.4L478.8 1231.3L483.2 1239.3L487.3 1247.5L491.3 1255.8L495.0 1264.2L498.5 1272.7L501.8 1281.3L504.8 1289.9" fill="none" stroke="#000" stroke-width="2.76" />
<path d="M226.8 1236.0L221.5 1223.0M227.4 1230.9L222.2 1217.3M228.2 1225.9L223.0 1211.6M229.2 1220.9L224.1 1206.0M230.4 1215.8L225.3 1200.3M231.8 1210.3L226.7 1194.8M233.4 1204.8L228.3 1189.2M235.3 1199.3L230.2 1183.8M237.4 1193.9L232.3 1178.4M239.7 1188.5L234.7 1173.2M242.3 1183.2L237.3 1168.1M245.1 1178.0L240.2 1163.1M248.2 1172.9L243.4 1158.3M251.7 1167.9L246.8 1153.7M255.4 1163.1L250.6 1149.4M259.4 1158.5L254.7 1145.3M263.8 1154.2L259.0 1141.5" fill="none" stroke="#000" stroke-width="3.3" />
<path d="M268.9 1146.4L263.7 1138.1M275.0 1143.8L269.6 1134.5M272.5 1140.5L278.6 1137.5M281.4 1141.9L275.9 1131.4M288.0 1140.6L282.5 1129.0M285.3 1136.1L291.9 1134.4M294.7 1139.9L289.3 1127.3M301.5 1139.9L296.3 1126.2M298.9 1134.2L305.6 1133.8M308.3 1140.4L303.3 1125.7M315.1 1141.4L310.4 1125.8M312.6 1134.8L319.3 1135.4M321.7 1143.0L317.4 1126.5M328.3 1145.0L324.4 1127.7M326.1 1137.4L332.6 1139.0M334.7 1147.4L331.3 1129.4M340.9 1150.1L338.0 1131.5M339.1 1141.8L345.4 1144.1M346.9 1153.1L344.6 1134.0M352.7 1156.4L351.1 1136.9M351.5 1147.5L357.5 1150.5M358.4 1160.0L357.4 1140.1M363.9 1163.7L363.6 1143.5M363.3 1154.4L368.9 1157.9M369.2 1167.7L369.6 1147.2M374.3 1171.8L375.5 1151.1M374.4 1162.2L379.7 1166.0M379.2 1176.0L381.2 1155.3M384.0 1180.4L386.7 1159.6M384.8 1170.6L389.8 1174.8M388.6 1184.9L392.1 1164.1M393.0 1189.4L397.4 1168.8M394.6 1179.7L399.3 1184.2M397.5 1193.7L402.5 1173.7M401.8 1198.0L407.5 1178.6M403.9 1188.8L408.4 1193.5M405.9 1202.5L412.3 1183.8M410.0 1207.1L417.0 1189.0M412.8 1198.4L417.0 1203.3M413.9 1211.7L421.6 1194.3M417.8 1216.5L426.0 1199.8M421.1 1208.4L425.1 1213.5M421.5 1221.3L430.3 1205.4M425.1 1226.3L434.5 1211.0M429.0 1218.8L432.7 1224.1M428.6 1231.3L438.5 1216.7M431.9 1236.3L442.4 1222.6M436.3 1229.5L439.9 1235.0M435.2 1241.5L446.2 1228.5M438.3 1246.7L449.9 1234.5M443.2 1240.6L446.5 1246.2M441.4 1252.0L453.4 1240.5M444.3 1257.3L456.8 1246.7M449.7 1251.9L452.7 1257.6M447.1 1262.7L460.1 1252.9M449.8 1268.1L463.2 1259.1M455.6 1263.4L458.4 1269.3M452.4 1273.6L466.2 1265.4M454.9 1279.1L469.1 1271.8M461.1 1275.2L463.7 1281.1M457.3 1284.7L471.9 1278.2M459.5 1290.3L474.5 1284.7M466.1 1287.2L468.4 1293.2M461.7 1296.0L477.0 1291.3M463.7 1301.7L479.4 1297.8M470.6 1299.3L472.7 1305.5M465.6 1307.5L481.6 1304.5M467.4 1313.3L483.7 1311.1M474.6 1311.7L474.6 1311.7" fill="none" stroke="#000" stroke-width="4" />
<path d="M262.8 1154.0L267.3 1150.4L272.2 1147.7L277.4 1145.7L282.8 1144.2L288.4 1143.1L294.0 1142.4L299.8 1142.2L305.7 1142.5L311.7 1143.2L317.7 1144.3L323.8 1145.8L329.9 1147.8L336.0 1150.2L342.1 1152.9L348.3 1156.1L354.3 1159.6L360.4 1163.5L366.3 1167.8L372.3 1172.4L378.1 1177.3L383.8 1182.5L389.4 1188.0L394.9 1193.5L400.5 1199.0L405.9 1204.8L411.2 1210.8L416.4 1217.2L421.4 1223.8L426.3 1230.6L431.0 1237.6L435.6 1244.9L439.9 1252.3L444.1 1259.9L448.0 1267.6L451.7 1275.5L455.2 1283.4L458.4 1291.5L461.4 1299.6L464.2 1307.8L466.6 1316.0" fill="none" stroke="#000" stroke-width="2.64" />
<path d="M225.7 1248.2L225.8 1245.4L226.0 1242.6L226.3 1239.9L226.5 1237.1L226.9 1234.5L227.2 1231.8L227.6 1229.2L228.1 1226.6L228.5 1224.0L229.1 1221.5L229.6 1219.0L230.2 1216.6L230.8 1214.2L231.5 1211.8L232.2 1209.4L233.0 1207.1L233.8 1204.8L234.6 1202.6L235.5 1200.4L236.4 1198.3L237.3 1196.2L238.3 1194.1L239.3 1192.1L240.4 1190.1L241.5 1188.2L242.6 1186.3L243.8 1184.5L245.0 1182.7L246.2 1180.9L247.5 1179.2L248.8 1177.6L250.1 1176.0L251.5 1174.4L252.9 1172.9L254.3 1171.5L255.7 1170.1L257.2 1168.8L258.8 1167.5L260.3 1166.2L261.9 1165.0" fill="none" stroke="#000" stroke-width="2.76" />
<path d="M261.9 1165.0L262.6 1164.5L263.3 1164.0L264.1 1163.5L264.8 1163.0L265.6 1162.5L266.3 1162.1L267.1 1161.6L267.8 1161.2L268.6 1160.7L269.4 1160.3L270.2 1159.9L270.9 1159.5L271.7 1159.1L272.5 1158.7L273.3 1158.4L274.1 1158.0L275.0 1157.7L275.8 1157.3L276.6 1157.0L277.4 1156.7L278.2 1156.4L279.1 1156.1L279.9 1155.9L280.8 1155.6L281.6 1155.4L282.5 1155.1L283.3 1154.9L284.2 1154.7L285.1 1154.5L285.9 1154.3L286.8 1154.1L287.7 1153.9L288.6 1153.8L289.5 1153.6L290.4 1153.5L291.3 1153.4L292.2 1153.3L293.1 1153.2L294.0 1153.1L294.9 1153.0" fill="none" stroke="#000" stroke-width="2.76" />
<path d="M318.9 1154.9L322.8 1155.9L326.6 1157.1L330.5 1158.4L334.5 1159.8L338.4 1161.5L342.3 1163.3L346.3 1165.3L350.2 1167.5L354.1 1169.8L358.1 1172.3L362.0 1174.9L365.9 1177.7L369.8 1180.6L373.7 1183.7L377.5 1186.9L381.3 1190.3L385.1 1193.8L388.8 1197.5L392.5 1201.3L396.1 1205.2L399.7 1209.2L403.3 1213.4L406.7 1217.6L410.2 1222.0L413.5 1226.5L416.8 1231.1L420.0 1235.8L423.1 1240.5L426.2 1245.4L429.2 1250.3L432.1 1255.3L434.9 1260.4L437.6 1265.6L440.2 1270.8L442.7 1276.0L445.1 1281.4L447.4 1286.7L449.7 1292.1L451.8 1297.5L453.8 1303.0" fill="none" stroke="#000" stroke-width="2.76" />
<path d="M389.4 1211.4L391.1 1213.2L392.8 1215.0L394.4 1216.8L396.0 1218.7L397.6 1220.6L399.2 1222.5L400.8 1224.5L402.4 1226.5L403.9 1228.5L405.5 1230.5L407.0 1232.5L408.5 1234.6L410.0 1236.7L411.5 1238.8L412.9 1240.9L414.4 1243.1L415.8 1245.3L417.2 1247.5L418.6 1249.7L420.0 1251.9L421.4 1254.2L422.7 1256.4L424.0 1258.7L425.3 1261.0L426.6 1263.3L427.9 1265.7L429.1 1268.0L430.4 1270.4L431.6 1272.8L432.7 1275.1L433.9 1277.5L435.0 1279.9L436.1 1282.4L437.2 1284.8L438.3 1287.2L439.4 1289.7L440.4 1292.1L441.4 1294.6L442.4 1297.1L443.3 1299.6" fill="none" stroke="#000" stroke-width="2.64" />
<path d="M319.6 1158.8L321.4 1159.2L323.2 1159.7L325.1 1160.2L326.9 1160.7L328.8 1161.3L330.6 1162.0L332.5 1162.7L334.3 1163.4L336.2 1164.1L338.1 1164.9L339.9 1165.8L341.8 1166.6L343.7 1167.6L345.6 1168.5L347.4 1169.5L349.3 1170.5L351.2 1171.6L353.1 1172.7L354.9 1173.8L356.8 1175.0L358.7 1176.2L360.5 1177.5L362.4 1178.8L364.2 1180.1L366.1 1181.4L368.0 1182.8L369.8 1184.2L371.6 1185.7L373.5 1187.2L375.3 1188.7L377.1 1190.3L378.9 1191.9L380.7 1193.5L382.5 1195.2L384.3 1196.9L386.1 1198.6L387.9 1200.3L389.6 1202.1L391.4 1203.9L393.1 1205.8" fill="none" stroke="#000" stroke-width="2.4" />
<path d="M222.3 1222 L222.6 1282" fill="none" stroke="#000" stroke-width="2.88" />
<path d="M225 1224 L253 1241" fill="none" stroke="#000" stroke-width="4.4" />
<path d="M253 1243 C256 1250 250 1255 246 1253 M236 1252 L246 1284 M232 1258 L238 1284" fill="none" stroke="#000" stroke-width="2.88" />
<path d="M240 1256 L247 1282" fill="none" stroke="#000" stroke-width="4" />
<path d="M260 1241 L288 1225 C296 1221 304 1219 311 1218.5 M262 1249 L259 1241 M262 1249 L292 1235 M300 1231 L314 1226 M318 1224 L320 1228 M290 1229 L308 1222" fill="none" stroke="#000" stroke-width="2.64" />
<ellipse cx="266.5" cy="1182" rx="4.2" ry="6.6" transform="rotate(-25 266.5 1182)" fill="none" stroke="#000" stroke-width="2.4"/>
<ellipse cx="276" cy="1176" rx="4.2" ry="6.6" transform="rotate(-25 276 1176)" fill="none" stroke="#000" stroke-width="2.4"/>
<path d="M309.5 1161 L320.5 1153 L334.5 1160.5 C352 1168 372 1184 390 1204 C398 1212 404 1219 409.5 1225.5 L397 1233 L378.5 1248.5 L370.5 1238 L373.5 1222 C366 1210 356 1198 346 1191 C340 1187 334 1184.5 329 1185 L327 1187 L329.5 1204.5 L317.5 1199.5 Z" fill="#fff" stroke="#000" stroke-width="2.88" />
<path d="M320.5 1153 L311.5 1162 M334.5 1160.5 L330 1163.5 M333 1157 L325.5 1160.5 L331 1156" fill="none" stroke="#000" stroke-width="1.92" />
<path d="M329.5 1189 L330.5 1203" fill="none" stroke="#000" stroke-width="3" />
<path d="M380 1246 L396 1234" fill="none" stroke="#000" stroke-width="3.6" />
<path d="M397 1233 L409.5 1226 L412 1231.5 M399 1235.5 L403 1243 M389.5 1208 L392.5 1210.5 M391.5 1206 L395 1209" fill="none" stroke="#000" stroke-width="2.16" />
<ellipse cx="347.5" cy="1233.5" rx="9" ry="13.5" transform="rotate(-22 347.5 1233.5)" fill="none" stroke="#000" stroke-width="2.64"/>
<path d="M342 1225 C341 1234 345 1242 352 1245" fill="none" stroke="#000" stroke-width="1.92" />
<path d="M290.5 1284 C288 1266 296 1250 312 1244 C330 1238 346 1246 356 1258" fill="none" stroke="#000" stroke-width="3.12" />
<path d="M340 1248 C346 1250 352 1255 356 1260 L362 1266" fill="none" stroke="#000" stroke-width="3.2" />
<ellipse cx="316" cy="1253" rx="5" ry="7" transform="rotate(-25 316 1253)" fill="#000" stroke="#000" stroke-width="1"/>
<path d="M300 1258 L304 1250 M356 1260 L366 1253 C370 1251 372 1248 371 1246 M374 1252 L385 1280" fill="none" stroke="#000" stroke-width="2.4" />
<path d="M306 1284 L316 1268 L328 1284" fill="none" stroke="#000" stroke-width="2.4" />
<path d="M551.3 1113.7 L578.3 1098.5 M583.5 1095 L586.5 1093.3 M592.3 1090.3 L639 1061" fill="none" stroke="#000" stroke-width="2.04" />
<path d="M755 1173.8 L801 1229" fill="none" stroke="#000" stroke-width="2.88" />
<path d="M755.8 450.2L759.6 450.2L759.6 430.0L756.7 430.0C755.7 432.0 753.7 432.8 751.4 433.0L751.4 436.0L755.8 436.0Z" fill="#000" stroke="#000" stroke-width="0.7"/>
<path d="M368.9 671.0L372.7 671.0L372.7 650.8L369.8 650.8C368.8 652.8 366.8 653.6 364.5 653.8L364.5 656.8L368.9 656.8Z" fill="#000" stroke="#000" stroke-width="0.7"/>
<text x="395.8" y="671.9" font-size="28.6" class="lbl" text-anchor="end">6</text>
<path d="M514.4 757.5L518.2 757.5L518.2 737.3L515.3 737.3C514.3 739.3 512.3 740.1 510.0 740.3L510.0 743.3L514.4 743.3Z" fill="#000" stroke="#000" stroke-width="0.7"/>
<text x="540.0" y="758.4" font-size="28.6" class="lbl" text-anchor="end">5</text>
<path d="M389.1 829.0L392.9 829.0L392.9 808.8L390.0 808.8C389.0 810.8 387.0 811.6 384.7 811.8L384.7 814.8L389.1 814.8Z" fill="#000" stroke="#000" stroke-width="0.7"/>
<text x="415.8" y="829.9" font-size="28.6" class="lbl" text-anchor="end">4</text>
<path d="M95.8 856.8L99.6 856.8L99.6 836.6L96.7 836.6C95.7 838.6 93.7 839.4 91.4 839.6L91.4 842.6L95.8 842.6Z" fill="#000" stroke="#000" stroke-width="0.7"/>
<text x="121.2" y="857.7" font-size="28.6" class="lbl" text-anchor="end">7</text>
<path d="M669.7 911.2L673.5 911.2L673.5 891.0L670.6 891.0C669.6 893.0 667.6 893.8 665.3 894.0L665.3 897.0L669.7 897.0Z" fill="#000" stroke="#000" stroke-width="0.7"/>
<text x="694.5" y="912.1" font-size="28.6" class="lbl" text-anchor="end">3</text>
<path d="M392.4 972.6L396.2 972.6L396.2 952.4L393.3 952.4C392.3 954.4 390.3 955.2 388.0 955.4L388.0 958.4L392.4 958.4Z" fill="#000" stroke="#000" stroke-width="0.7"/>
<text x="419.3" y="973.5" font-size="28.6" class="lbl" text-anchor="end">2</text>
<path d="M461.0 1066.9L464.8 1066.9L464.8 1046.7L461.9 1046.7C460.9 1048.7 458.9 1049.5 456.6 1049.7L456.6 1052.7L461.0 1052.7Z" fill="#000" stroke="#000" stroke-width="0.7"/>
<path d="M474.4 1066.9L478.2 1066.9L478.2 1046.7L475.3 1046.7C474.3 1048.7 472.3 1049.5 470.0 1049.7L470.0 1052.7L474.4 1052.7Z" fill="#000" stroke="#000" stroke-width="0.7"/>
<path d="M398.8 1107.0L402.6 1107.0L402.6 1086.8L399.7 1086.8C398.7 1088.8 396.7 1089.6 394.4 1089.8L394.4 1092.8L398.8 1092.8Z" fill="#000" stroke="#000" stroke-width="0.7"/>
<text x="424.8" y="1107.9" font-size="28.6" class="lbl" text-anchor="end">0</text>
<path d="M146.7 1136.4L150.5 1136.4L150.5 1116.2L147.6 1116.2C146.6 1118.2 144.6 1119.0 142.3 1119.2L142.3 1122.2L146.7 1122.2Z" fill="#000" stroke="#000" stroke-width="0.7"/>
<text x="171.8" y="1137.3" font-size="28.6" class="lbl" text-anchor="end">8</text>
<text x="839.7" y="1114.9" font-size="28.6" class="lbl" text-anchor="end">8</text>
<text x="952.2" y="1158.9" font-size="28.6" class="lbl" text-anchor="end">7</text>
<text x="821.2" y="1255.4" font-size="28.6" class="lbl" text-anchor="end">9</text>
<path d="M769 438.4L836.5 460.6" fill="none" stroke="#000" stroke-width="3.12" />
<path d="M290 684.4L358.8 664" fill="none" stroke="#000" stroke-width="2.76" />
<path d="M539.4 761.7L592 779.8" fill="none" stroke="#000" stroke-width="2.76" />
<path d="M539.4 761.7L610.8 863" fill="none" stroke="#000" stroke-width="2.76" />
<path d="M416.3 823.8L458.5 849.6" fill="none" stroke="#000" stroke-width="2.76" />
<path d="M125.2 848.4L204.4 867" fill="none" stroke="#000" stroke-width="2.76" />
<path d="M424.5 961L476 960.2" fill="none" stroke="#000" stroke-width="2.76" />
<path d="M178.6 1130L235 1168.7" fill="none" stroke="#000" stroke-width="2.76" />
<text class="wmb" transform="translate(184,237) rotate(9.8)">vNext Technologies</text>
<text class="wmb" transform="translate(700,237) rotate(9.8)">vNext Technologies</text>
<text class="wmb" transform="translate(184,753) rotate(9.8)">vNext Technologies</text>
<text class="wmb" transform="translate(700,753) rotate(9.8)">vNext Technologies</text>
<text class="wmb" transform="translate(184,1269) rotate(9.8)">vNext Technologies</text>
<text class="wmb" transform="translate(700,1269) rotate(9.8)">vNext Technologies</text>
</svg></body></html>
